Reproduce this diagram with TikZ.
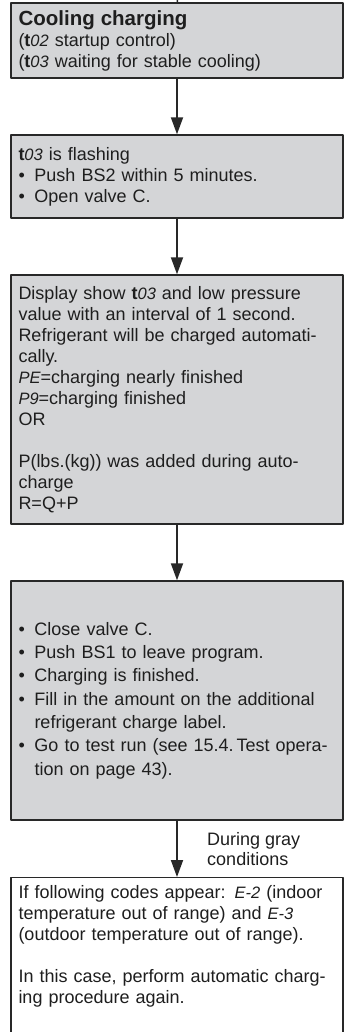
\documentclass[tikz,border=0pt]{standalone}
\usepackage{fontspec}
\setmainfont{Liberation Sans}
\usetikzlibrary{arrows.meta,positioning}
\definecolor{boxgray}{RGB}{212,213,215}
\definecolor{boxline}{RGB}{40,40,40}
\definecolor{inkgray}{RGB}{30,30,30}
\newcommand{\lcd}[1]{{\itshape\fontsize{16.5}{21}\selectfont #1}}
\newcommand{\tcode}[1]{\textbf{t}\lcd{#1}}
\newcommand{\itm}{\makebox[16pt][l]{\textbullet}}
\newcommand{\hang}{\hspace*{16pt}}

\begin{document}
\begin{tikzpicture}[x=1pt, y=-1pt, line join=round, >={Triangle[length=17pt,width=12pt]},
		box/.style={draw=boxline, line width=1.4pt, fill=boxgray, minimum width=332pt, text width=317pt, inner xsep=7.5pt, inner ysep=6pt, align=left, text=inkgray, font=\fontsize{18}{21}\selectfont},
		plain/.style={box, fill=white},
		flow/.style={->, line width=1.8pt, color=boxline},
		cond/.style={align=left, text=inkgray, font=\fontsize{18}{20}\selectfont}]
	\useasboundingbox (0,0) rectangle (345,1032);
	\clip (0,0) rectangle (345,1032);
	\coordinate (start) at (177.5,-5);
	% boxes
	\node[box, minimum height=75pt] (cool) at (177,40.5) {{\fontsize{20.5}{21}\selectfont\bfseries Cooling charging}\\
		(\tcode{02} startup control)\\
		(\tcode{03} waiting for stable cooling)};
	\node[box, minimum height=83pt] (flash) at (177,176.5) {\tcode{03} is flashing\\
		\itm Push BS2 within 5 minutes.\\
		\itm Open valve C.};
	\node[box, minimum height=249pt] (auto) at (177,399.5) {Display show \tcode{03} and low pressure\\
		value with an interval of 1 second.\\
		Refrigerant will be charged automati-\\
		cally.\\
		\lcd{PE}=charging nearly finished\\
		\lcd{P9}=charging finished\\
		OR\\[21pt]
		P(lbs.(kg)) was added during auto-\\
		charge\\
		R=Q+P};
	\node[box, minimum height=239pt, font=\fontsize{18}{23.3}\selectfont] (done) at (177,700.5) {\itm Close valve C.\\
		\itm Push BS1 to leave program.\\
		\itm Charging is finished.\\
		\itm Fill in the amount on the additional\\
		\hang refrigerant charge label.\\
		\itm Go to test run (see 15.4.\,Test opera-\\
		\hang tion on page 43).};
	\node[plain, anchor=north, inner ysep=8pt, text depth=170pt] (again) at (177,877) {If following codes appear: \lcd{E-2} (indoor\\
		temperature out of range) and \lcd{E-3}\\
		(outdoor temperature out of range).\\[21pt]
		In this case, perform automatic charg-\\
		ing procedure again.};
	% connectors
	\draw[line width=1.4pt, color=boxline] (start) -- (cool);
	\draw[flow] (cool) -- (flash);
	\draw[flow] (flash) -- (auto);
	\draw[flow] (auto) -- (done);
	\draw[flow] (done) -- node[cond, right=26pt] (gray) {During gray\\conditions} (again);
\end{tikzpicture}
\end{document}
